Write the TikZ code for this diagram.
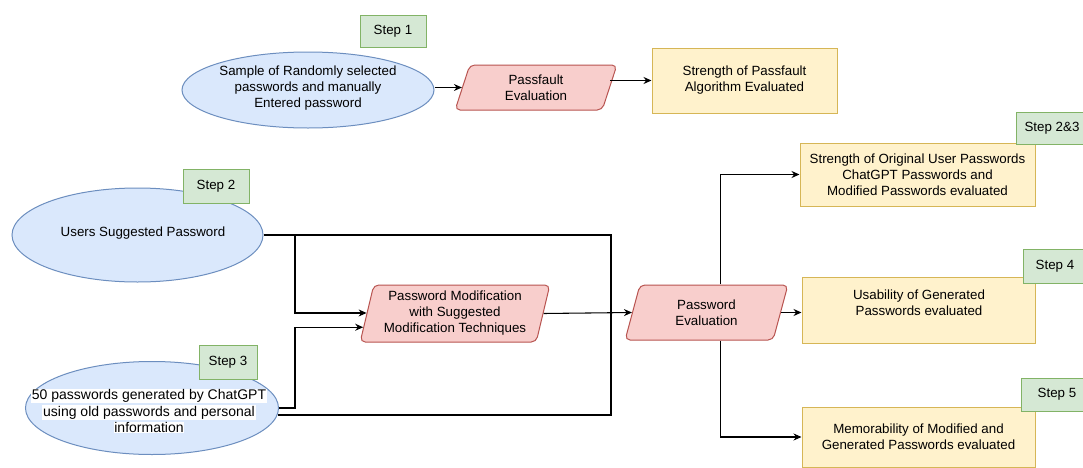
\documentclass[tikz,border=0pt]{standalone}
\usepackage{fontspec}
\setmainfont{Liberation Sans}
\usetikzlibrary{shapes.geometric,arrows.meta,calc}
\newlength\px
\setlength\px{0.75pt}
\definecolor{bluef}{HTML}{DAE8FC}
\definecolor{blueb}{HTML}{6C8EBF}
\definecolor{pinkf}{HTML}{F8CECC}
\definecolor{pinkb}{HTML}{B85450}
\definecolor{yelf}{HTML}{FFF2CC}
\definecolor{yelb}{HTML}{D6B656}
\definecolor{grnf}{HTML}{D5E8D4}
\definecolor{grnb}{HTML}{82B366}
\begin{document}
\begin{tikzpicture}[x=1\px,y=-1\px,
  every node/.style={font=\fontsize{10}{12}\selectfont},
  ell/.style={ellipse, draw=blueb, fill=bluef, line width=0.75pt, inner sep=0pt},
  txt/.style={align=center, inner sep=0pt},
  par/.style={trapezium, trapezium left angle=75, trapezium right angle=105,
    trapezium stretches, draw=pinkb, fill=pinkf, line width=0.75pt,
    rounded corners=3.75pt, align=center, inner sep=0pt},
  res/.style={rectangle, draw=yelb, fill=yelf, line width=0.75pt, align=center, inner sep=0pt},
  stepbox/.style={rectangle, draw=grnb, fill=grnf, line width=0.75pt, inner sep=0pt},
  conn/.style={line width=0.8pt, black},
  arr/.style={conn, -{Stealth[length=6pt,width=5.25pt]}}]
\useasboundingbox (0,0) rectangle (1083,468);
\fill[white] (0,0) rectangle (1083,468);

% Step 1 row
\node[ell, minimum width=252\px, minimum height=76\px] (e1) at (308,90) {};
\node[txt] (e1t) at (308,88) {Sample of Randomly selected\\passwords and manually\\Entered password};
\node[stepbox, minimum width=66\px, minimum height=32\px] (s1) at (393,31) {Step 1};
\node[par, minimum width=162\px, minimum height=45\px] (pf) at (536,87.5) {Passfault\\Evaluation};
\node[res, minimum width=185\px, minimum height=65\px] (b0) at (744.5,80.5) {Strength of Passfault\\Algorithm Evaluated};

% inputs
\node[ell, minimum width=251\px, minimum height=94\px] (e2) at (137.5,235) {};
\node[txt] (e2t) at (143,233) {Users Suggested Password};
\node[stepbox, minimum width=66\px, minimum height=34\px] (s2) at (216,186) {Step 2};

\node[ell, minimum width=253\px, minimum height=93\px] (e3) at (152,408) {};
\node[txt, font=\fontsize{10.5}{12.5}\selectfont] (e3t) at (149,411)
  {\setlength\fboxsep{0.5pt}\colorbox{white}{50 passwords generated by ChatGPT}\\
   \setlength\fboxsep{0.5pt}\colorbox{white}{using old passwords and personal}\\
   \setlength\fboxsep{0.5pt}\colorbox{white}{information}};
\node[stepbox, minimum width=58\px, minimum height=34\px] (s3) at (228,362) {Step 3};

% processing
\node[par, minimum width=190\px, minimum height=57\px] (pm) at (455,313.5) {Password Modification\\with Suggested\\Modification Techniques};
\node[par, minimum width=163\px, minimum height=55\px] (pe) at (706.5,312.5) {Password\\Evaluation};

% results
\node[res, minimum width=235\px, minimum height=63\px] (b1) at (917.5,174.5) {Strength of Original User Passwords\\ChatGPT Passwords and\\Modified Passwords evaluated};
\node[stepbox, minimum width=72\px, minimum height=32\px] (s23) at (1052,128) {Step 2\&3};

\node[res, minimum width=233\px, minimum height=66\px] (b2) at (918.5,310) {};
\node[txt] (b2t) at (919,302.5) {Usability of Generated\\Passwords evaluated};
\node[stepbox, minimum width=64\px, minimum height=34\px] (s4) at (1055,266) {Step 4};

\node[res, minimum width=233\px, minimum height=60\px] (b3) at (918.5,437) {Memorability of Modified and\\Generated Passwords evaluated};
\node[stepbox, minimum width=72\px, minimum height=33\px] (s5) at (1057,394.5) {Step 5};

% connectors
\coordinate (rt) at (611,415);
\coordinate (jx) at (295,0);
\draw[arr] (pf.west -| e1.east) -- (pf.west);
\draw[arr] (b0.west -| pf.east) -- (b0.west);
\draw[conn] (e2.east) -| (rt) -- (rt -| e3.-3);
\draw[arr] (e2.east -| jx) |- ($(pm.bottom left corner)!0.509!(pm.top left corner)$);
\draw[arr] (e3.east) -- (e3.east -| jx) |- ($(pm.bottom left corner)!0.263!(pm.top left corner)$);
\draw[arr] (pm.east) -- (pe.west);
\draw[arr] (pe.east) -- (pe.east -| b2.west);
\draw[arr] ([xshift=10.5pt]pe.north) |- (b1.west);
\draw[arr] ([xshift=10.5pt]pe.south) |- (b3.west);
\end{tikzpicture}
\end{document}
